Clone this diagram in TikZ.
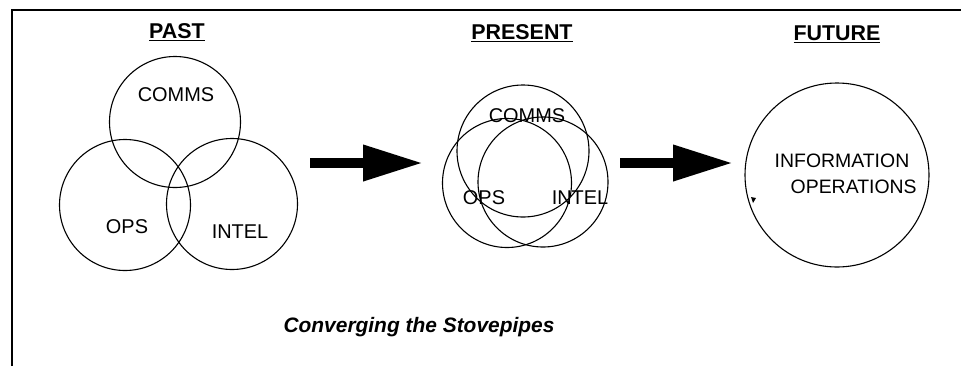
\documentclass[tikz,border=0pt]{standalone}
\usepackage{fontspec}
\setmainfont{Liberation Sans}
\usetikzlibrary{arrows.meta}
\begin{document}
\begin{tikzpicture}[x=1bp,y=-1bp,
  ring/.style={circle,draw,line width=1.1bp,inner sep=0pt},
  lbl/.style={inner sep=0pt,font=\fontsize{20}{23}\selectfont},
  head/.style={inner sep=0pt,font=\bfseries\fontsize{21.5}{24}\selectfont},
  bigarrow/.style={line width=10bp,-{Triangle[length=60bp,width=34bp]}}]
\useasboundingbox (0,0) rectangle (961,366);
% frame
\coordinate (fl) at (12,366);
\coordinate (ftl) at (12,10);
\coordinate (ftr) at (961,10);
\draw[line width=2bp] (fl) -- (ftl) -- (ftr);
% headings
\node[head] (past) at (177,32) {\underline{PAST}};
\node[head] (present) at (522,33) {\underline{PRESENT}};
\node[head] (future) at (837,34) {\underline{FUTURE}};
% past
\node[ring,minimum size=131bp] (pcomms) at (175,122) {};
\node[ring,minimum size=131bp] (pops) at (125,205) {};
\node[ring,minimum size=131bp] (pintel) at (232,204) {};
\node[lbl] (tpcomms) at (176,95) {COMMS};
\node[lbl] (tpops) at (127,227) {OPS};
\node[lbl] (tpintel) at (240,232) {INTEL};
% present
\node[ring,minimum size=132bp] (ncomms) at (523,151) {};
\node[ring,minimum size=129bp] (nops) at (507,183) {};
\node[ring,minimum size=130bp] (nintel) at (543,182) {};
\node[lbl] (tncomms) at (527,116) {COMMS};
\node[lbl] (tnops) at (484,198) {OPS};
\node[lbl] (tnintel) at (580,198) {INTEL};
% future
\node[ring,minimum size=184bp] (fut) at (837,175) {};
\node[lbl,align=center,font=\fontsize{19.5}{22}\selectfont] (tfut) at (842,174) {INFORMATION\\[4bp]\hspace*{1.2em}OPERATIONS};
\fill (751,197) -- (756,198) -- (753,203) -- cycle;
% arrows
\coordinate (a1s) at (310,163);
\coordinate (a1e) at (423,163);
\coordinate (a2s) at (620,163);
\coordinate (a2e) at (733,163);
\draw[bigarrow] (a1s) -- (a1e);
\draw[bigarrow] (a2s) -- (a2e);
% caption
\node[inner sep=0pt,font=\bfseries\itshape\fontsize{21}{24}\selectfont] (cap) at (419,327) {Converging the Stovepipes};
\end{tikzpicture}
\end{document}
